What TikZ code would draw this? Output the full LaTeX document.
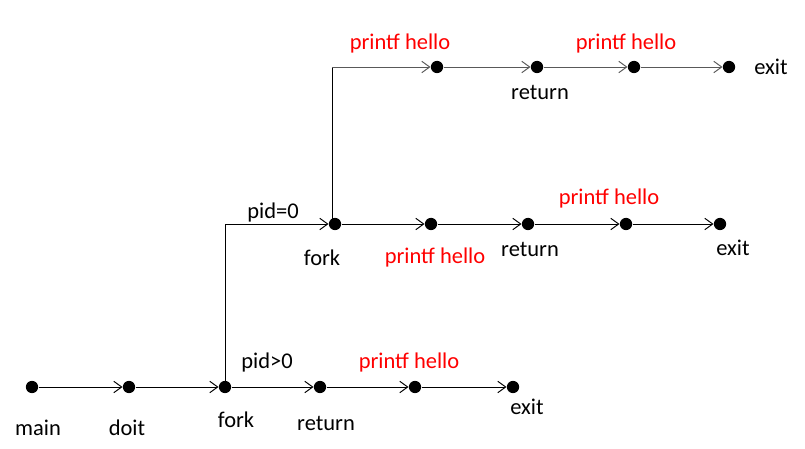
\documentclass[tikz,border=0pt]{standalone}
\usepackage{fontspec}
\setmainfont{Carlito}
\usepackage{xcolor}
\usetikzlibrary{arrows.meta,positioning}

\begin{document}
\begin{tikzpicture}[x=0.02cm, y=-0.02cm,
    every node/.style={font=\fontsize{12.8}{14}\selectfont},
    pt/.style={circle,fill=black,inner sep=0pt,minimum size=7pt},
    flow/.style={-{Straight Barb[length=4.5pt,width=6.5pt]},line width=0.55pt},
    msg/.style={text=red}]
  \useasboundingbox (0,0) rectangle (805,449);
  % parent process
  \node[pt] (main) at (32,387) {};
  \node[pt] (doit) at (129,387) {};
  \node[pt] (forkA) at (225,387) {};
  \node[pt] (retA) at (320,387) {};
  \node[pt] (prA) at (415,387) {};
  \node[pt] (exitA) at (513,387) {};
  \draw[flow] (main) -- (doit);
  \draw[flow] (doit) -- (forkA);
  \draw[flow] (forkA) -- (retA);
  \draw[flow] (retA) -- (prA);
  \draw[flow] (prA) -- (exitA);
  \node (tmain) at (38,428) {main};
  \node (tdoit) at (127,428) {doit};
  \node (tforkA) at (236,420) {fork};
  \node (tretA) at (326,423) {return};
  \node[msg] (tprA) at (409,363) {printf hello};
  \node (texitA) at (527,407) {exit};
  \node (tgt) at (267,363) {pid>0};
  % child process
  \coordinate (bendA) at (225,224);
  \node[pt] (forkB) at (335,224) {};
  \node[pt] (prB) at (431,224) {};
  \node[pt] (retB) at (528,224) {};
  \node[pt] (prC) at (626,224) {};
  \node[pt] (exitB) at (720,224) {};
  \draw[line width=0.55pt] (forkA.center) -- (bendA);
  \draw[flow] (bendA) -- (forkB);
  \draw[flow] (forkB) -- (prB);
  \draw[flow] (prB) -- (retB);
  \draw[flow] (retB) -- (prC);
  \draw[flow] (prC) -- (exitB);
  \node (teq) at (273,213) {pid=0};
  \node (tforkB) at (322,258) {fork};
  \node[msg] (tprB) at (435,258) {printf hello};
  \node (tretB) at (530,249) {return};
  \node[msg] (tprC) at (609,199) {printf hello};
  \node (texitB) at (733,248) {exit};
  % grandchild
  \coordinate (bendB) at (332,67);
  \node[pt] (prD) at (437,67) {};
  \node[pt] (retC) at (537,67) {};
  \node[pt] (prE) at (634,67) {};
  \node[pt] (exitC) at (729,67) {};
  \draw[line width=0.55pt] (bendB |- forkB) -- (bendB);
  \draw[flow,black!65] (bendB) -- (prD);
  \draw[flow,black!65] (prD) -- (retC);
  \draw[flow,black!65] (retC) -- (prE);
  \draw[flow,black!65] (prE) -- (exitC);
  \node[msg] (tprD) at (400,44) {printf hello};
  \node (tretC) at (540,92) {return};
  \node[msg] (tprE) at (626,44) {printf hello};
  \node (texitC) at (771,67) {exit};
\end{tikzpicture}
\end{document}
